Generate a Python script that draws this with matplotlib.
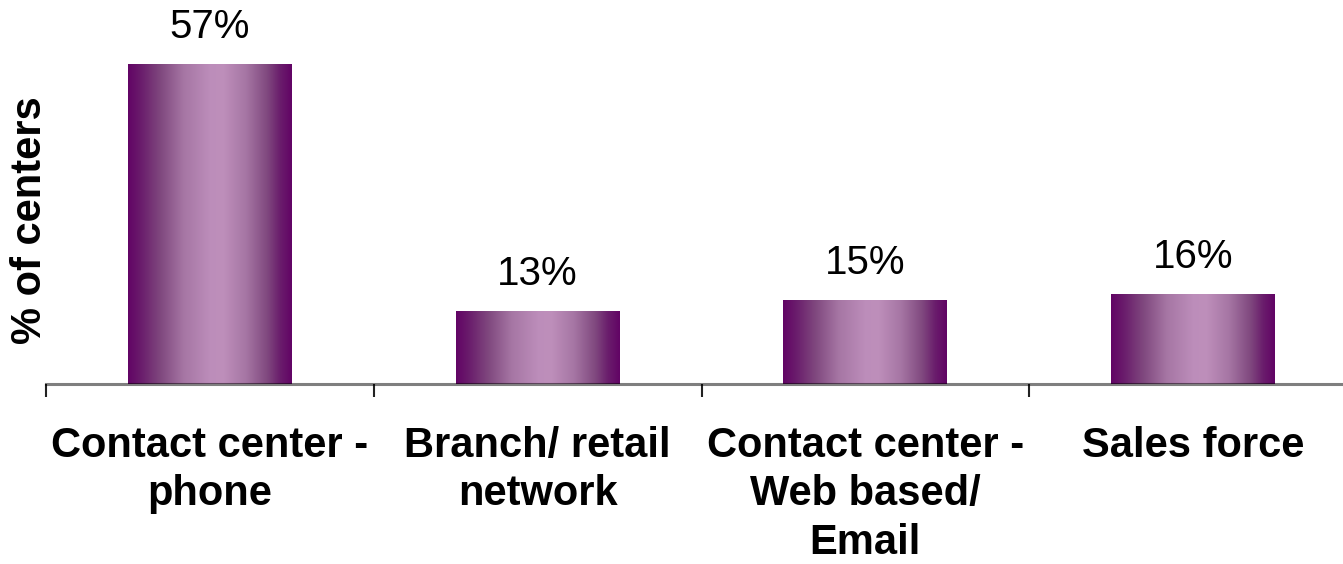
import numpy as np
import matplotlib
matplotlib.use("Agg")
import matplotlib.pyplot as plt
from matplotlib.colors import LinearSegmentedColormap

plt.rcParams['font.family'] = ['Liberation Sans', 'DejaVu Sans']

categories = ["Contact center -\nphone", "Branch/ retail\nnetwork",
              "Contact center -\nWeb based/\nEmail", "Sales force"]
values = [57, 13, 15, 16]
value_labels = ["57%", "13%", "15%", "16%"]

W, H = 1343, 564
fig = plt.figure(figsize=(W / 100, H / 100), dpi=100)
ax = fig.add_axes([46 / W, 180 / H, (1357 - 46) / W, 337 / H])

# Cylinder-like horizontal shading for the bars
shade = LinearSegmentedColormap.from_list("shade", [
    (0.00, "#620465"), (0.08, "#6a1d6c"), (0.20, "#80497f"),
    (0.34, "#a676a4"), (0.50, "#bc8dba"), (0.58, "#be8fbb"),
    (0.72, "#a676a4"), (0.85, "#80497f"), (0.93, "#6a1d6c"),
    (1.00, "#620465")])
grad = np.linspace(0, 1, 256).reshape(1, -1)

x = np.arange(len(categories))
bars = ax.bar(x, values, width=0.5, facecolor="none", edgecolor="none", zorder=2)
for b in bars:
    x0, w, h = b.get_x(), b.get_width(), b.get_height()
    im = ax.imshow(grad, cmap=shade, aspect="auto", extent=(x0, x0 + w, 0, h),
                   interpolation="bilinear", zorder=2)
    im.set_clip_path(b)

for xi, v, lab in zip(x, values, value_labels):
    ax.annotate(lab, (xi, v), xytext=(0, 13), textcoords="offset points",
                ha="center", va="bottom", fontsize=29)

ax.set_xlim(-0.5, len(categories) - 0.5)
ax.set_ylim(0, 60)

for s in ("top", "right", "left"):
    ax.spines[s].set_visible(False)
ax.spines["bottom"].set_color((0, 0, 0, 0.5))
ax.spines["bottom"].set_linewidth(2.2)
ax.spines["bottom"].set_zorder(3)

ax.set_yticks([])
ax.set_xticks(x)
ax.set_xticklabels(categories, fontsize=30, fontweight="bold", linespacing=1.28)
ax.tick_params(axis="x", which="major", length=0, pad=30)
ax.set_xticks(np.arange(-0.5, len(categories)), minor=True)
ax.tick_params(axis="x", which="minor", length=9.5, width=1.5, color="#222222",
               direction="out")

fig.text(30 / W, 1 - 220 / H, "% of centers", rotation=90, fontsize=30,
         fontweight="bold", ha="center", va="center")

fig.savefig("out.png", dpi=100)
